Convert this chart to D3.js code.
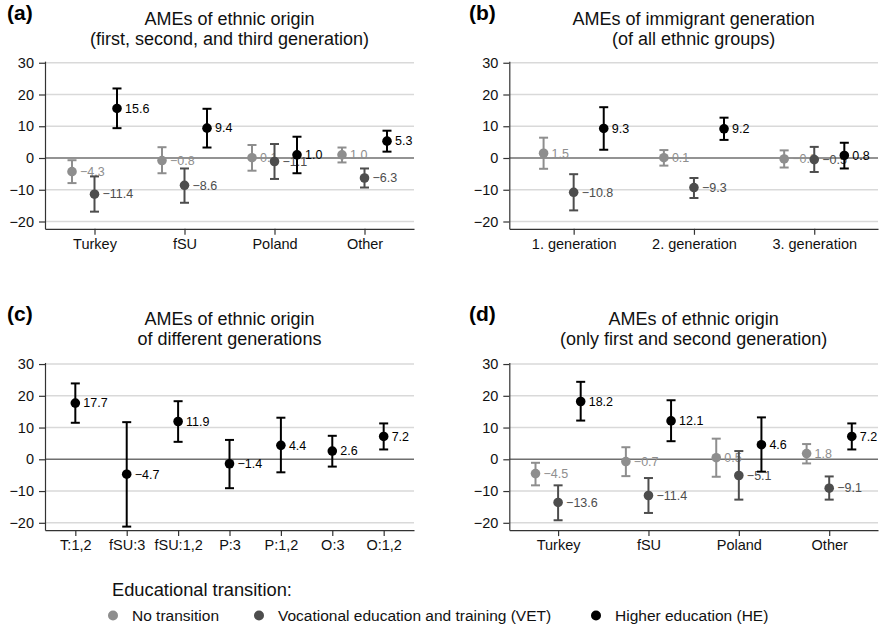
<!DOCTYPE html>
<html>
<head>
<meta charset="utf-8">
<script src="https://cdn.jsdelivr.net/npm/d3@7"></script>
<style>
  body { margin: 0; background: #fff; }
  svg { font-family: "Liberation Sans", Arial, Helvetica, sans-serif; }
</style>
</head>
<body>
<script>
'use strict';

// categories
const catsEthnic = ["Turkey", "fSU", "Poland", "Other"];
const catsGen = ["1. generation", "2. generation", "3. generation"];
const catsCombo = ["T:1,2", "fSU:3", "fSU:1,2", "P:3", "P:1,2", "O:3", "O:1,2"];
const yTicks = [-20, -10, 0, 10, 20, 30];

// each entry: [estimate, lower CI, upper CI]
const aNoTrans = [[-4.3, -7.9, -0.7], [-0.8, -4.8, 3.4], [0.1, -4.0, 4.1], [1.0, -1.4, 3.3]];
const aVET = [[-11.4, -16.9, -5.8], [-8.6, -14.1, -3.3], [-1.1, -6.6, 4.4], [-6.3, -9.3, -3.3]];
const aHE = [[15.6, 9.4, 21.9], [9.4, 3.3, 15.5], [1.0, -4.8, 6.7], [5.3, 2.0, 8.6]];

const bNoTrans = [[1.5, -3.4, 6.4], [0.1, -2.4, 2.5], [-0.3, -3.0, 2.4]];
const bVET = [[-10.8, -16.5, -5.1], [-9.3, -12.6, -6.3], [-0.5, -4.4, 3.5]];
const bHE = [[9.3, 2.6, 16.0], [9.2, 5.7, 12.7], [0.8, -3.3, 4.8]];

const cHE = [[17.7, 11.5, 23.9], [-4.7, -21.2, 11.7], [11.9, 5.5, 18.3], [-1.4, -9.1, 6.1],
             [4.4, -4.1, 13.1], [2.6, -2.3, 7.4], [7.2, 3.1, 11.3]];

const dNoTrans = [[-4.5, -8.2, -1.1], [-0.7, -5.3, 3.8], [0.5, -5.5, 6.5], [1.8, -1.3, 4.8]];
const dVET = [[-13.6, -19.2, -8.2], [-11.4, -16.9, -5.9], [-5.1, -12.7, 2.6], [-9.1, -12.7, -5.4]];
const dHE = [[18.2, 12.2, 24.4], [12.1, 5.7, 18.6], [4.6, -3.9, 13.2], [7.2, 3.1, 11.3]];

const legendLabels = ["No transition", "Vocational education and training (VET)", "Higher education (HE)"];
const colNT = "#8e8e8e", colVET = "#4d4d4d", colHE = "#000000";

const fmt = d3.format(".1f");

const svg = d3.select("body").append("svg")
  .attr("width", 879)
  .attr("height", 627);

// draw one panel
function drawPanel(p) {
  const g = svg.append("g");
  const perTen = 31.75;
  const y = d3.scaleLinear()
    .domain([-22.3, 30.5])
    .range([p.zero + 22.3 * perTen / 10, p.zero - 30.5 * perTen / 10]);
  const x = d3.scaleLinear().domain(p.xDomain).range([p.left, p.right]);
  const bottom = y(-22.3);

  // grid lines
  g.selectAll(".grid")
    .data(yTicks.filter(t => t !== 0))
    .enter().append("line")
    .attr("x1", p.left).attr("x2", p.right)
    .attr("y1", d => y(d)).attr("y2", d => y(d))
    .attr("stroke", "#d9d9d9")
    .attr("stroke-width", 1.5);

  // zero line
  g.append("line")
    .attr("x1", p.left).attr("x2", p.right)
    .attr("y1", y(0)).attr("y2", y(0))
    .attr("stroke", "#6f6f6f")
    .attr("stroke-width", 1.5);

  // axes
  const yAxis = d3.axisLeft(y).tickValues(yTicks).tickSize(6).tickSizeOuter(0).tickPadding(5)
    .tickFormat(d => d3.format("")(d));
  g.append("g")
    .attr("transform", `translate(${p.left},0)`)
    .call(yAxis)
    .call(a => a.selectAll("text").style("font-size", "14.5px").attr("fill", "#111"))
    .call(a => a.selectAll("line,path").attr("stroke", "#333").attr("stroke-width", 1.2));

  const xAxis = d3.axisBottom(x)
    .tickValues(d3.range(1, p.cats.length + 1))
    .tickFormat(i => p.cats[i - 1])
    .tickSize(6).tickSizeOuter(0).tickPadding(4);
  g.append("g")
    .attr("transform", `translate(0,${bottom})`)
    .call(xAxis)
    .call(a => a.selectAll("text").style("font-size", "14.5px").attr("fill", "#111"))
    .call(a => a.selectAll("line,path").attr("stroke", "#333").attr("stroke-width", 1.2));

  // titles
  const cx = (p.left + p.right) / 2;
  p.title.forEach((t, i) => {
    g.append("text")
      .attr("x", cx)
      .attr("y", p.titleY + i * 19.5)
      .attr("text-anchor", "middle")
      .style("font-size", "18px")
      .attr("fill", "#111")
      .text(t);
  });
  g.append("text")
    .attr("x", p.tagX)
    .attr("y", p.tagY)
    .style("font-size", "21px")
    .style("font-weight", "bold")
    .text(p.tag);

  // estimates with confidence intervals
  p.series.forEach(s => {
    const sg = g.append("g");
    const xs = (d, i) => x(i + 1 + s.offset);
    sg.selectAll(".ci")
      .data(s.values).enter().append("line")
      .attr("x1", xs).attr("x2", xs)
      .attr("y1", d => y(d[1])).attr("y2", d => y(d[2]))
      .attr("stroke", s.color).attr("stroke-width", 2);
    [1, 2].forEach(k => {
      sg.selectAll(".cap" + k)
        .data(s.values).enter().append("line")
        .attr("x1", (d, i) => xs(d, i) - 4.5).attr("x2", (d, i) => xs(d, i) + 4.5)
        .attr("y1", d => y(d[k])).attr("y2", d => y(d[k]))
        .attr("stroke", s.color).attr("stroke-width", 2);
    });
    sg.selectAll("circle")
      .data(s.values).enter().append("circle")
      .attr("cx", xs).attr("cy", d => y(d[0]))
      .attr("r", 4.8)
      .attr("fill", s.color);
    sg.selectAll(".lab")
      .data(s.values).enter().append("text")
      .attr("x", (d, i) => xs(d, i) + 8)
      .attr("y", d => y(d[0]) + 4.3)
      .style("font-size", "12.5px")
      .attr("fill", s.color)
      .text(d => fmt(d[0]));
  });
}

drawPanel({
  tag: "(a)", tagX: 7, tagY: 20,
  title: ["AMEs of ethnic origin", "(first, second, and third generation)"], titleY: 25,
  left: 45, right: 414, zero: 158,
  cats: catsEthnic, xDomain: [0.45, 4.55],
  series: [
    { values: aNoTrans, color: colNT, offset: -0.25 },
    { values: aVET, color: colVET, offset: 0 },
    { values: aHE, color: colHE, offset: 0.25 }
  ]
});

drawPanel({
  tag: "(b)", tagX: 469, tagY: 20,
  title: ["AMEs of immigrant generation", "(of all ethnic groups)"], titleY: 25,
  left: 509.3, right: 878, zero: 158,
  cats: catsGen, xDomain: [0.465, 3.53],
  series: [
    { values: bNoTrans, color: colNT, offset: -0.25 },
    { values: bVET, color: colVET, offset: 0 },
    { values: bHE, color: colHE, offset: 0.25 }
  ]
});

drawPanel({
  tag: "(c)", tagX: 7, tagY: 321,
  title: ["AMEs of ethnic origin", "of different generations"], titleY: 325,
  left: 45, right: 414, zero: 459.3,
  cats: catsCombo, xDomain: [0.41, 7.59],
  series: [
    { values: cHE, color: colHE, offset: 0 }
  ]
});

drawPanel({
  tag: "(d)", tagX: 469, tagY: 321,
  title: ["AMEs of ethnic origin", "(only first and second generation)"], titleY: 325,
  left: 509.3, right: 878, zero: 459.3,
  cats: catsEthnic, xDomain: [0.46, 4.54],
  series: [
    { values: dNoTrans, color: colNT, offset: -0.25 },
    { values: dVET, color: colVET, offset: 0 },
    { values: dHE, color: colHE, offset: 0.25 }
  ]
});

// legend
const legend = svg.append("g");
legend.append("text")
  .attr("x", 112)
  .attr("y", 596)
  .style("font-size", "18.3px")
  .attr("fill", "#111")
  .text("Educational transition:");

const legendX = [113, 259, 596];
const legendCol = [colNT, colVET, colHE];
legendLabels.forEach((l, i) => {
  legend.append("circle")
    .attr("cx", legendX[i]).attr("cy", 615.5)
    .attr("r", 5)
    .attr("fill", legendCol[i]);
  legend.append("text")
    .attr("x", legendX[i] + 19)
    .attr("y", 621)
    .style("font-size", "15.5px")
    .attr("fill", "#111")
    .text(l);
});
</script>
</body>
</html>
